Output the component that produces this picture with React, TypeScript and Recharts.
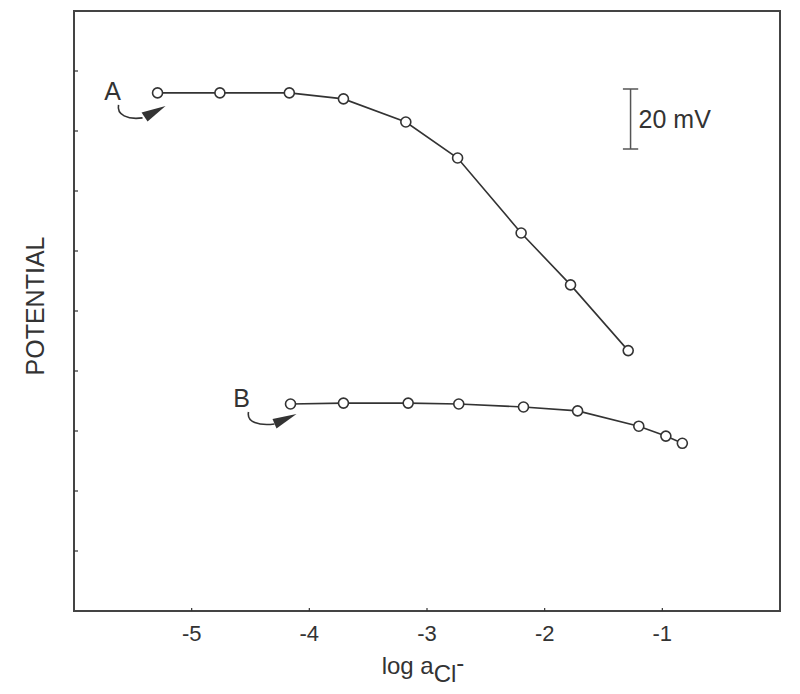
import {
  LineChart,
  Line,
  XAxis,
  YAxis,
  ReferenceArea,
  ReferenceLine,
  ReferenceDot,
} from "recharts";

// curve A
const logA = [-5.29, -4.76, -4.17, -3.71, -3.18, -2.74, -2.2, -1.78, -1.29];
const potA = [172.7, 172.7, 172.7, 170.7, 163, 151, 126, 108.7, 86.8];
// curve B
const logB = [-4.16, -3.71, -3.16, -2.73, -2.18, -1.72, -1.2, -0.97, -0.83];
const potB = [69, 69.3, 69.3, 69, 68, 66.7, 61.6, 58.3, 55.9];

const xTicks = [-5, -4, -3, -2, -1];
const yTicks = [20, 40, 60, 80, 100, 120, 140, 160, 180];

// 20 mV scale bar
const barX = -1.27;
const barLow = 154;
const barHigh = 174;

const dataA = logA.map((x, i) => ({ x, y: potA[i] }));
const dataB = logB.map((x, i) => ({ x, y: potB[i] }));

const ink = "#333";
const font = "Liberation Sans, Arial, sans-serif";

const XTick = (props: any) => {
  const { x, y, payload } = props;
  return (
    <g>
      <line x1={x} y1={y} x2={x} y2={y - 3} stroke={ink} strokeWidth={1.2} />
      <text x={x} y={y + 30} textAnchor="middle" fontSize={22} fill={ink} fontFamily={font}>
        {payload.value}
      </text>
    </g>
  );
};

const YTick = (props: any) => {
  const { x, y } = props;
  return <line x1={x} y1={y} x2={x + 4} y2={y} stroke={ink} strokeWidth={1.2} />;
};

const dot = { r: 5, fill: "#fff", stroke: ink, strokeWidth: 1.6 };

const marker = (name: string, tx: number, ty: number, path: string, head: string) => (props: any) => {
  const { cx, cy } = props;
  return (
    <g transform={`translate(${cx},${cy})`}>
      <text x={tx} y={ty} textAnchor="middle" fontSize={25} fill={ink} fontFamily={font}>
        {name}
      </text>
      <path d={path} fill="none" stroke={ink} strokeWidth={1.6} />
      <polygon points={head} fill={ink} />
    </g>
  );
};

export default function App() {
  return (
    <div style={{ position: "absolute", left: 0, top: 0, background: "#fff" }}>
      <LineChart
        width={800}
        height={694}
        margin={{ top: 11, right: 20, bottom: 0, left: 0 }}
      >
        <XAxis
          type="number"
          dataKey="x"
          domain={[-6, 0]}
          ticks={xTicks}
          allowDataOverflow
          height={83}
          axisLine={false}
          tickLine={false}
          tickSize={0}
          tickMargin={0}
          tick={<XTick />}
          label={{
            content: (p: any) => {
              const vb = p.viewBox;
              return (
                <text
                  x={vb.x + vb.width / 2 - 4}
                  y={vb.y + 63}
                  textAnchor="middle"
                  fontSize={24}
                  fill={ink}
                  fontFamily={font}
                >
                  log a
                  <tspan dy={8}>Cl</tspan>
                  <tspan dy={-11}>-</tspan>
                </text>
              );
            },
          }}
        />
        <YAxis
          type="number"
          domain={[0, 200]}
          ticks={yTicks}
          width={74}
          axisLine={false}
          tickLine={false}
          tickSize={0}
          tickMargin={0}
          tick={<YTick />}
          label={{
            content: (p: any) => {
              const vb = p.viewBox;
              const cy = vb.y + vb.height / 2 - 5;
              return (
                <text
                  x={44}
                  y={cy}
                  transform={`rotate(-90, 44, ${cy})`}
                  textAnchor="middle"
                  fontSize={25}
                  fill={ink}
                  fontFamily={font}
                >
                  POTENTIAL
                </text>
              );
            },
          }}
        />
        <ReferenceArea
          x1={-6}
          x2={0}
          y1={0}
          y2={200}
          fill="none"
          stroke="#444"
          strokeWidth={2}
          fillOpacity={0}
        />
        <Line
          data={dataA}
          dataKey="y"
          stroke={ink}
          strokeWidth={1.6}
          dot={dot}
          isAnimationActive={false}
        />
        <Line
          data={dataB}
          dataKey="y"
          stroke={ink}
          strokeWidth={1.6}
          dot={dot}
          isAnimationActive={false}
        />
        <ReferenceDot
          x={logA[0]}
          y={potA[0]}
          r={0}
          shape={marker(
            "A",
            -45,
            7,
            "M -39 12 C -41 22, -30 27, -15 25",
            "-16,19.5 -10,28.5 8,13"
          )}
        />
        <ReferenceDot
          x={logB[0]}
          y={potB[0]}
          r={0}
          shape={marker(
            "B",
            -49,
            3,
            "M -42 8 C -44 18, -32 22, -16 20",
            "-18,15 -14,24.5 6,10"
          )}
        />
        <ReferenceLine
          segment={[
            { x: barX, y: barLow },
            { x: barX, y: barHigh },
          ]}
          stroke="#555"
          strokeWidth={1.5}
          label={{
            value: "20 mV",
            position: "right",
            offset: 8,
            fontSize: 25,
            fill: ink,
            fontFamily: font,
          }}
        />
        <ReferenceLine
          segment={[
            { x: barX - 0.065, y: barHigh },
            { x: barX + 0.065, y: barHigh },
          ]}
          stroke="#555"
          strokeWidth={1.5}
        />
        <ReferenceLine
          segment={[
            { x: barX - 0.065, y: barLow },
            { x: barX + 0.065, y: barLow },
          ]}
          stroke="#555"
          strokeWidth={1.5}
        />
      </LineChart>
    </div>
  );
}
